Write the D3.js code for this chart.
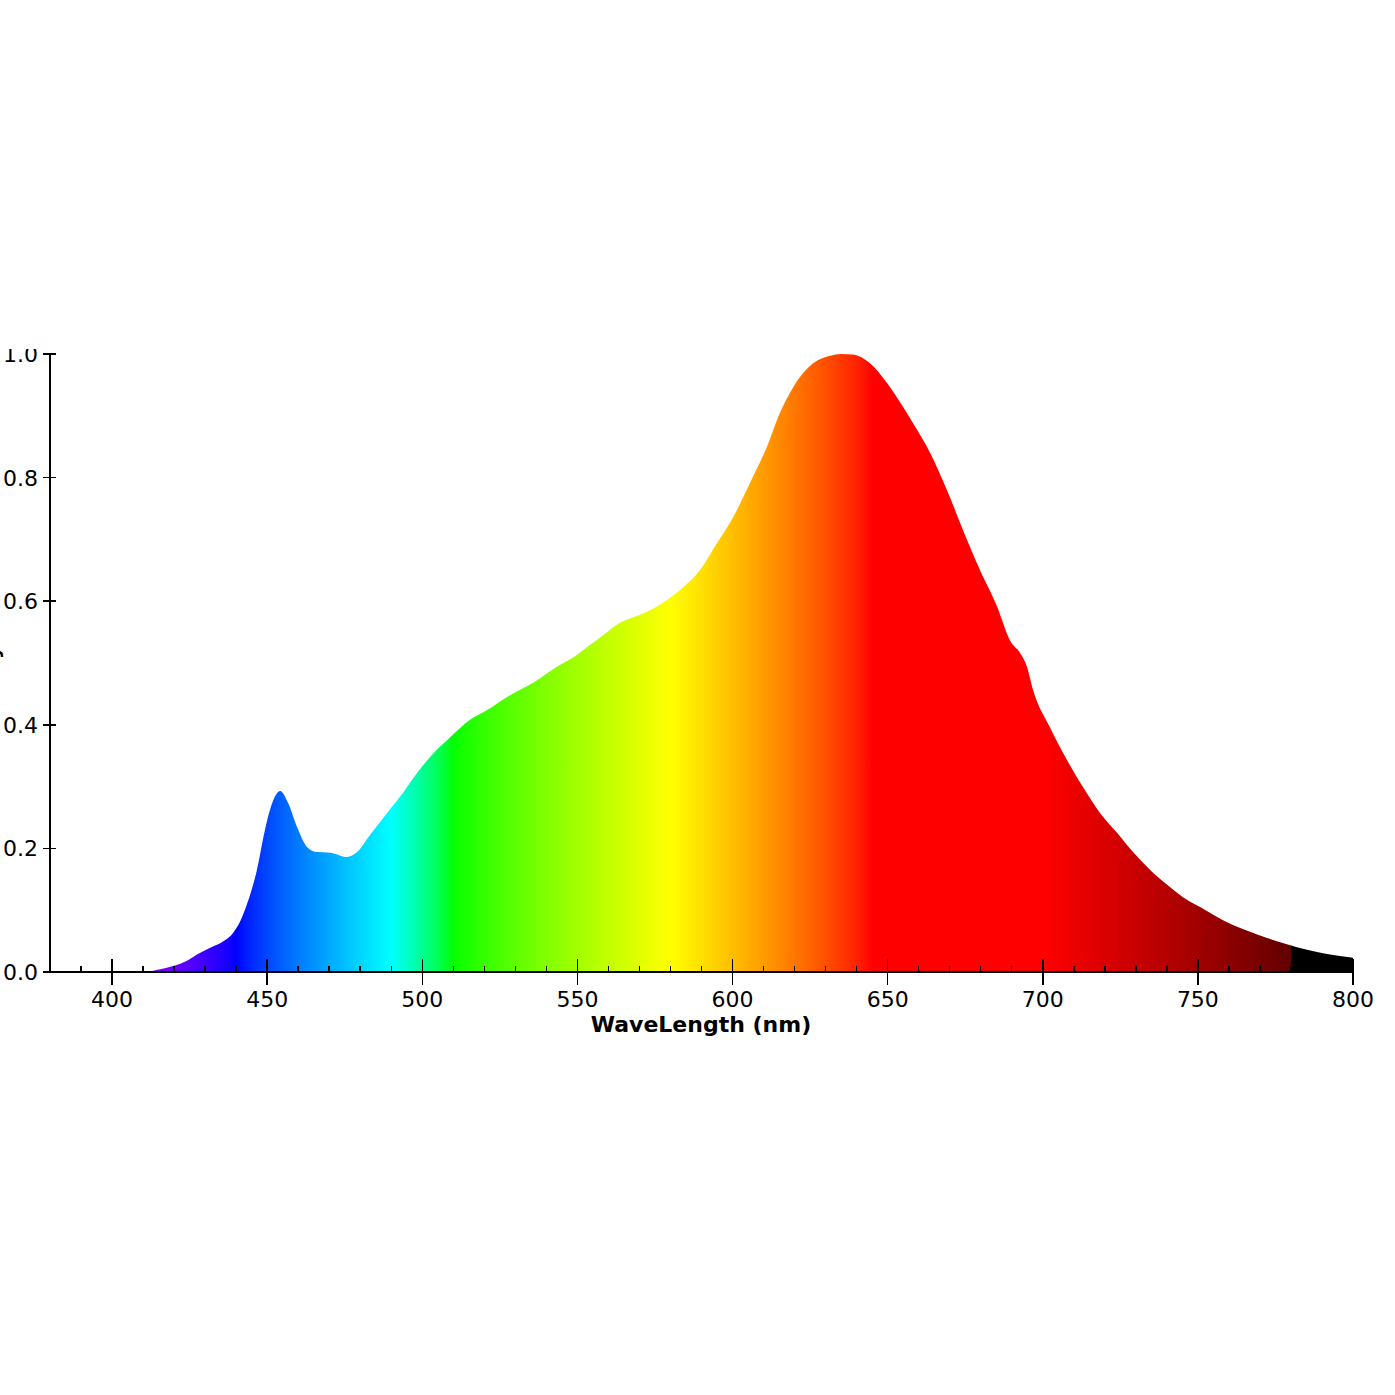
<html>
	<head>
		<style>
			body { margin: 0; background: #fff; }
			text { font-family: "DejaVu Sans", sans-serif; }
			.axis line, .axis path { stroke: #000; shape-rendering: crispEdges; }
		</style>
	</head>
	<body>
		<script src="https://cdnjs.cloudflare.com/ajax/libs/d3/7.8.5/d3.min.js"></script>
		<script>
			// spectrum (nm / relative intensity)
			var wavelengths = [380, 410, 412, 414, 417, 420, 424, 428, 432, 436, 439, 441.5, 443.5, 446.7, 449.3, 451.6,
				454.2, 456.8, 459.6, 462.9, 466, 470.3, 475.7, 479, 483.2, 488.6, 493.8, 496.7, 502.5, 509,
				515.4, 520.9, 528.3, 535.7, 543.4, 549, 554, 558.3, 563.7, 568, 572.4, 578.9, 584, 589.5, 595,
				600.2, 605.6, 611.1, 615.3, 618.5, 621.8, 626, 631.4, 635, 638.8, 644.3, 649.8, 654, 658.2, 663.7,
				669.1, 674.3, 679.8, 685.3, 689.4, 692.7, 694.9, 696.9, 702.3, 707.8, 713, 718.5, 724, 729.1,
				734.6, 740.1, 745.2, 750.7, 756.2, 761.3, 766.8, 772.3, 778.7, 785.2, 791.6, 800];
			var intensity = [0, 0, 0.001, 0.003, 0.006, 0.01, 0.018, 0.03, 0.04, 0.05, 0.063, 0.084, 0.11, 0.165, 0.23, 0.273,
				0.293, 0.273, 0.235, 0.202, 0.194, 0.193, 0.186, 0.194, 0.222, 0.257, 0.29, 0.311, 0.348, 0.38,
				0.408, 0.424, 0.448, 0.468, 0.494, 0.51, 0.529, 0.545, 0.565, 0.574, 0.583, 0.602, 0.622, 0.65, 0.694,
				0.736, 0.791, 0.85, 0.905, 0.937, 0.963, 0.985, 0.997, 1.0, 0.999, 0.985, 0.953, 0.922, 0.888, 0.84,
				0.78, 0.715, 0.65, 0.591, 0.537, 0.516, 0.494, 0.456, 0.396, 0.343, 0.299, 0.257, 0.225, 0.194,
				0.165, 0.141, 0.121, 0.105, 0.089, 0.076, 0.065, 0.055, 0.045, 0.036, 0.029, 0.023];
			var xTicks = [400, 450, 500, 550, 600, 650, 700, 750, 800];
			var xMinorTicks = d3.range(390, 800, 10);
			var yTicks = [0.0, 0.2, 0.4, 0.6, 0.8, 1.0];

			var width = 1395,
				height = 1395;

			var svg = d3.select("body").append("svg")
				.attr("width", width)
				.attr("height", height);

			var x = d3.scaleLinear().domain([380, 800]).range([50, 1353]);
			var y = d3.scaleLinear().domain([0, 1]).range([972, 354]);

			// approximate visible colour of a wavelength
			function waveColor(w) {
				var r = 0, g = 0, b = 0;
				if (w < 440) { r = -(w - 440) / 60; b = 1; }
				else if (w < 490) { g = (w - 440) / 50; b = 1; }
				else if (w < 510) { g = 1; b = -(w - 510) / 20; }
				else if (w < 580) { r = (w - 510) / 70; g = 1; }
				else if (w < 645) { r = 1; g = -(w - 645) / 65; }
				else if (w < 780) { r = 1; }
				var f = 0;
				if (w < 420) f = 0.3 + 0.7 * (w - 380) / 40;
				else if (w <= 700) f = 1;
				else if (w < 780) f = 0.3 + 0.7 * (780 - w) / 80;
				function adj(c) { return c === 0 ? 0 : Math.round(255 * Math.pow(c * f, 0.8)); }
				return d3.rgb(adj(r), adj(g), adj(b)).toString();
			}

			var defs = svg.append("defs");
			var grad = defs.append("linearGradient")
				.attr("id", "spectrum")
				.attr("gradientUnits", "userSpaceOnUse")
				.attr("x1", x(380)).attr("x2", x(800))
				.attr("y1", 0).attr("y2", 0);

			d3.range(380, 801, 1).forEach(function(w) {
				grad.append("stop")
					.attr("offset", (w - 380) / 420)
					.attr("stop-color", waveColor(w));
				if (w == 779) {
					grad.append("stop").attr("offset", (779.99 - 380) / 420).attr("stop-color", waveColor(779.9));
				}
			});

			// the original figure is cut just above the top tick label
			defs.append("clipPath").attr("id", "frame")
				.append("rect")
				.attr("x", -10).attr("y", 349)
				.attr("width", width + 20).attr("height", height);

			var chart = svg.append("g").attr("clip-path", "url(#frame)");

			var pts = wavelengths.map(function(w, i) { return [w, intensity[i]]; });

			var area = d3.area()
				.x(function(d) { return x(d[0]); })
				.y0(y(0))
				.y1(function(d) { return y(d[1]); })
				.curve(d3.curveMonotoneX);

			chart.append("path")
				.datum(pts)
				.attr("d", area)
				.attr("fill", "url(#spectrum)");

			// x axis
			var xAxis = chart.append("g").attr("class", "axis");
			xAxis.append("line")
				.attr("x1", x(380)).attr("x2", x(800))
				.attr("y1", y(0)).attr("y2", y(0))
				.attr("stroke-width", 1.5);
			xAxis.selectAll(".minor").data(xMinorTicks.filter(function(t) { return t % 50 != 0; }))
				.enter().append("line")
				.attr("x1", x).attr("x2", x)
				.attr("y1", y(0)).attr("y2", y(0) - 6)
				.attr("stroke-width", 1.5);
			xAxis.selectAll(".major").data(xTicks)
				.enter().append("line")
				.attr("x1", x).attr("x2", x)
				.attr("y1", y(0) - 13).attr("y2", y(0) + 13)
				.attr("stroke-width", 1.5);
			xAxis.selectAll("text").data(xTicks)
				.enter().append("text")
				.attr("x", x)
				.attr("y", 1007)
				.attr("text-anchor", "middle")
				.attr("font-size", 22)
				.text(function(d) { return d; });

			chart.append("text")
				.attr("x", (592 + 810) / 2)
				.attr("y", 1032)
				.attr("text-anchor", "middle")
				.attr("font-size", 22)
				.attr("font-weight", "bold")
				.text("WaveLength (nm)");

			// y axis
			var yAxis = chart.append("g").attr("class", "axis");
			yAxis.append("line")
				.attr("x1", x(380)).attr("x2", x(380))
				.attr("y1", y(0)).attr("y2", y(1))
				.attr("stroke-width", 1.5);
			yAxis.selectAll(".tick").data(yTicks)
				.enter().append("line")
				.attr("x1", x(380) - 7).attr("x2", x(380) + 6)
				.attr("y1", y).attr("y2", y)
				.attr("stroke-width", 1.5);
			yAxis.selectAll("text").data(yTicks)
				.enter().append("text")
				.attr("x", 38)
				.attr("y", function(d) { return y(d) + 8; })
				.attr("text-anchor", "end")
				.attr("font-size", 22)
				.text(function(d) { return d.toFixed(1); });

			chart.append("text")
				.attr("transform", "translate(-1,646) rotate(-90)")
				.attr("text-anchor", "end")
				.attr("font-size", 20)
				.attr("font-weight", "bold")
				.text("Intensity");
		</script>
	</body>
</html>
